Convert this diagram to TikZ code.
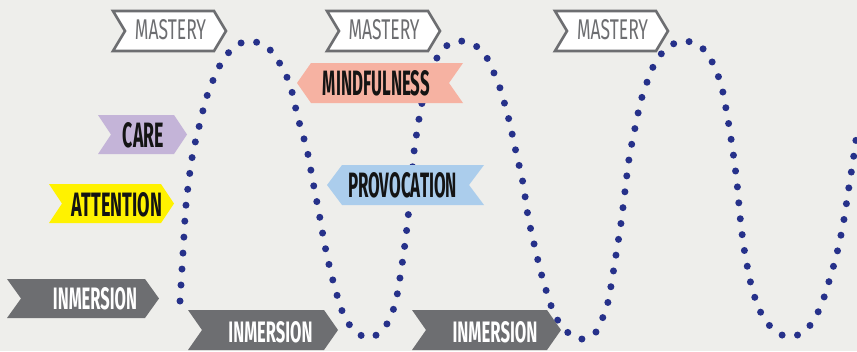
\documentclass[tikz,border=0pt]{standalone}
\usepackage{fontspec}
\setmainfont{Fira Sans}
\definecolor{paper}{HTML}{EEEEEB}
\definecolor{navy}{HTML}{26318A}
\definecolor{slate}{HTML}{6D6E71}
\definecolor{salmon}{HTML}{F6B2A2}
\definecolor{sky}{HTML}{ABCDEC}
\definecolor{lilac}{HTML}{C4B4D8}
\definecolor{lemon}{HTML}{FFF200}
\definecolor{ink}{HTML}{141414}
% right-pointing banner with left notch: L R T B depth
\newcommand\bnR[5]{(#1,#3) -- ({#2-#5},#3) -- (#2,{(#3+#4)/2}) -- ({#2-#5},#4) -- (#1,#4) -- ({#1+#5},{(#3+#4)/2}) -- cycle}
% left-pointing banner with right notch
\newcommand\bnL[5]{(#1,{(#3+#4)/2}) -- ({#1+#5},#3) -- (#2,#3) -- ({#2-#5},{(#3+#4)/2}) -- (#2,#4) -- ({#1+#5},#4) -- cycle}
\newcommand\lbl[3]{\resizebox{#1pt}{#2pt}{#3}}
\tikzset{
  mastery/.style={fill=white,draw=slate,line width=2.6pt,line join=miter},
  mtext/.style={inner sep=0pt,text=slate},
  btext/.style={inner sep=0pt,text=ink,font=\bfseries},
  wtext/.style={inner sep=0pt,text=white,font=\bfseries},
  wave/.style={draw=navy,line width=7pt,line cap=round,dash pattern=on 0pt off 16pt}
}
\begin{document}
\begin{tikzpicture}[x=1pt,y=-1pt]
\fill[paper] (0,0) rectangle (857,351);
\useasboundingbox (0,0) rectangle (857,351);
\begin{scope}
\clip (0,0) rectangle (857,351);
\draw[wave] plot[smooth,tension=0.5] coordinates {
(180,301) (183,253) (186,205) (192,158) (199,127) (207,96) (219,67) (230,51) (241,43) (252,41)
(267,47) (277,59) (285,73) (291,88) (298,118) (307,150) (313,182) (319,213) (325,246) (332,277)
(341,308) (348,323) (359,334) (369,338) (382,331) (391,316) (396,300) (399,284) (404,251) (408,218)
(411,185) (414,152) (419,119) (422,103) (428,80) (438,56) (449,44) (461,41) (476,46) (487,58)
(494,73) (500,88) (509,120) (516,152) (523,183) (528,216) (535,248) (543,280) (553,311) (561,325)
(572,336) (583,339) (596,332) (603,317) (608,302) (611,286) (616,255) (621,223) (625,191) (629,159)
(635,128) (642,97) (653,67) (662,53) (675,43) (686,41) (700,46) (710,58) (717,73) (722,88)
(728,120) (733,152) (737,183) (740,216) (744,248) (750,280) (754,295) (760,311) (768,324) (780,334)
(791,337) (805,331) (815,318) (822,303) (827,288) (836,257) (843,225) (848,193) (853,161) (858,125)};

% banners
\draw[mastery] \bnR{113}{226}{11}{51}{12};
\draw[mastery] \bnR{327}{440}{11}{51}{12};
\draw[mastery] \bnR{555}{668}{11}{51}{12};
\fill[salmon] \bnL{297}{463}{63}{103}{14};
\fill[sky] \bnL{327}{484}{165}{205}{15};
\fill[lilac] \bnR{98}{187}{115}{154}{13};
\fill[lemon] \bnR{49}{174}{184}{223}{13};
\fill[slate] \bnR{7}{159}{279}{318}{14};
\fill[slate] \bnR{188}{338}{310}{350}{14};
\fill[slate] \bnR{412}{561}{310}{350}{14};
\end{scope}

\node[mtext] (m1) at (170.5,30) {\lbl{71}{20}{MASTERY}};
\node[mtext] (m2) at (384,30) {\lbl{71}{20}{MASTERY}};
\node[mtext] (m3) at (612.5,30) {\lbl{71}{20}{MASTERY}};
\node[btext] (mind) at (376.5,83.5) {\lbl{107}{25}{MINDFULNESS}};
\node[btext] (prov) at (402.5,185.5) {\lbl{109}{25}{PROVOCATION}};
\node[btext] (care) at (143.5,135.5) {\lbl{41}{25}{CARE}};
\node[btext] (att) at (117,205) {\lbl{90}{24}{ATTENTION}};
\node[wtext] (in1) at (95,298.5) {\lbl{84}{22}{INMERSION}};
\node[wtext] (in2) at (270.5,332.5) {\lbl{84}{21}{INMERSION}};
\node[wtext] (in3) at (495,332.5) {\lbl{85}{21}{INMERSION}};
\end{tikzpicture}
\end{document}
